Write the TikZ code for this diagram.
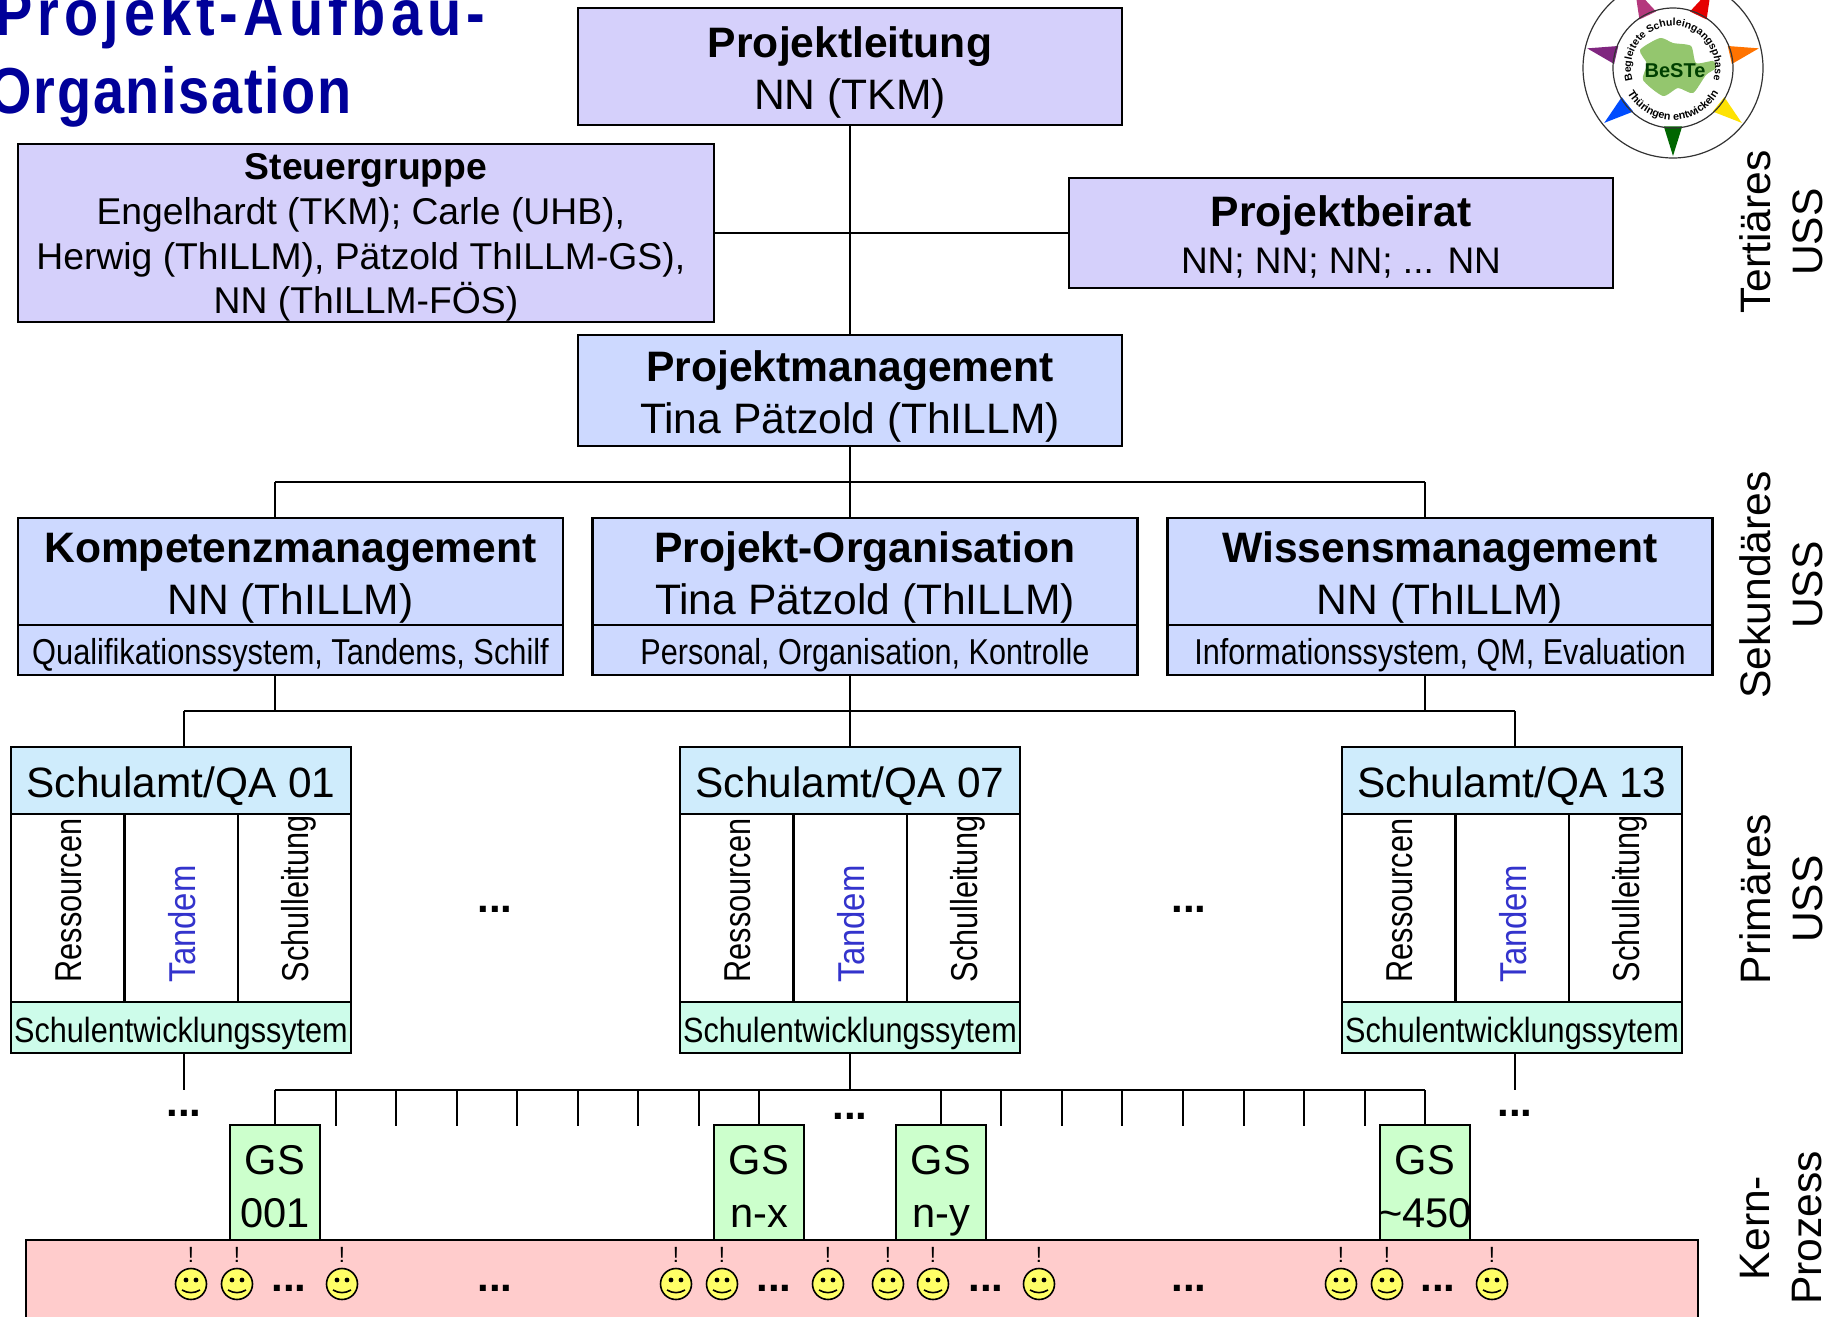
\documentclass[tikz,border=0pt]{standalone}
\usepackage{fontspec}
\setmainfont{Liberation Sans}
\usepackage{graphicx}
\usetikzlibrary{calc}
\usetikzlibrary{decorations}
\usetikzlibrary{decorations.text}
\definecolor{leitfill}{HTML}{D5D0FB}
\definecolor{mgmtfill}{HTML}{CDD9FF}
\definecolor{qafill}{HTML}{CFECFC}
\definecolor{sysfill}{HTML}{CDFCEA}
\definecolor{gsfill}{HTML}{CCFFCC}
\definecolor{kernfill}{HTML}{FFCCCC}
\definecolor{titleblue}{HTML}{000099}
\definecolor{tandemblue}{HTML}{3333CC}
\definecolor{faceyellow}{HTML}{FFFF66}
\definecolor{mapgreen}{HTML}{94C66E}
\newcommand{\narrow}[2]{\scalebox{#1}[1]{#2}}
\newcommand{\logoray}[2]{\fill[#2] (-#1:88) -- ({-#1-9}:59) -- ({-#1+9}:59) -- cycle;}

\begin{document}
\begin{tikzpicture}[x=0.5pt, y=-0.5pt, line width=1pt]
	\tikzstyle{box} = [draw, line width=1.1pt, inner sep=0pt, outer sep=0pt, align=center]
	\tikzstyle{big} = [box, minimum width=272pt, font=\fontsize{21.3}{25.8}\selectfont, execute at begin node={\rule{0pt}{47.1pt}}]
	\tikzstyle{sub} = [box, minimum width=272.5pt, minimum height=25pt, font=\fontsize{18}{22}\selectfont, execute at begin node={\rule{0pt}{18pt}}]
	\tikzstyle{qa} = [box, fill=qafill, minimum width=170pt, minimum height=33.5pt, font=\fontsize{21.2}{25}\selectfont, execute at begin node={\rule{0pt}{21pt}}]
	\tikzstyle{col} = [box, minimum width=56.7pt, minimum height=94pt]
	\tikzstyle{coltext} = [inner sep=0pt, rotate=90, anchor=base west, font=\fontsize{18.7}{22}\selectfont]
	\tikzstyle{sys} = [box, fill=sysfill, minimum width=170pt, minimum height=25.5pt, font=\fontsize{17.5}{21}\selectfont, execute at begin node={\rule{0pt}{18.6pt}}]
	\tikzstyle{gs} = [box, fill=gsfill, minimum width=45pt, minimum height=57.5pt, font=\fontsize{20.8}{26.5}\selectfont, execute at begin node={\rule{0pt}{49.7pt}}, execute at end node={\rule[-5pt]{0pt}{0pt}}]
	\tikzstyle{side} = [inner sep=0pt, rotate=90, align=center, font=\fontsize{21.3}{26}\selectfont]
	\tikzstyle{more} = [inner sep=0pt, font=\fontsize{21}{25}\selectfont\bfseries]
	\tikzstyle{titleline} = [inner sep=0pt, anchor=base east, text=titleblue, font=\fontsize{32.5}{39}\selectfont\bfseries]
	\tikzstyle{face} = [draw, circle, fill=faceyellow, line width=.8pt, inner sep=0pt, minimum size=15.5pt,
		label={[inner sep=0pt, label distance=2pt, font=\fontsize{11}{12}\selectfont]above:!},
		path picture={
			\fill[black] ([shift={(-5,-4)}]path picture bounding box.center) circle (2.4);
			\fill[black] ([shift={(5,-4)}]path picture bounding box.center) circle (2.4);
			\draw[black, line width=.8pt] ([shift={(-9,6)}]path picture bounding box.center) to[bend right=30] ([shift={(9,6)}]path picture bounding box.center);
		}]

	\useasboundingbox (0,0) rectangle (1838,1317);
	\clip (0,0) rectangle (1838,1317);

	% title
	\node[titleline] (title1) at (486,35) {\narrow{.86}{\addfontfeature{LetterSpace=9}Projekt-Aufbau-}};
	\node[titleline] (title2) at (353,113) {\narrow{.86}{\addfontfeature{LetterSpace=3}Organisation}};

	% tertiary level
	\path
	node[big, fill=leitfill, minimum height=58.5pt] (leitung) at (850,66.5) {\textbf{Projektleitung}\\NN (TKM)}
	node[box, fill=leitfill, minimum width=348pt, minimum height=89pt, font=\fontsize{18.65}{22.3}\selectfont, execute at begin node={\rule{0pt}{84.5pt}}] (steuer) at (366,233)
		{\textbf{Steuergruppe}\\Engelhardt (TKM); Carle (UHB),\rule{5.2pt}{0pt}\\Herwig (ThILLM), Pätzold ThILLM-GS),\rule{5.2pt}{0pt}\\NN (ThILLM-FÖS)}
	node[box, minimum width=272pt, fill=leitfill, minimum height=55pt, font=\fontsize{18.5}{23.5}\selectfont, execute at begin node={\rule{0pt}{43pt}}] (beirat) at (1341,233)
		{{\fontsize{21.3}{23.5}\selectfont\textbf{Projektbeirat}}\\NN; NN; NN; ... NN}
	node[big, fill=mgmtfill, minimum height=55.5pt] (mgmt) at (850,390.5) {\textbf{Projektmanagement}\\Tina Pätzold (ThILLM)}
	(leitung) edge (mgmt)
	(steuer) edge (beirat)
	;

	% secondary level
	\path
	node[big, fill=mgmtfill, minimum width=272.5pt, minimum height=53.5pt] (komp) at (290.5,571.5) {\textbf{Kompetenzmanagement}\\NN (ThILLM)}
	node[big, fill=mgmtfill, minimum width=272.5pt, minimum height=53.5pt] (orga) at (865,571.5) {\textbf{Projekt-Organisation}\\Tina Pätzold (ThILLM)}
	node[big, fill=mgmtfill, minimum width=272.5pt, minimum height=53.5pt] (wissen) at (1440,571.5) {\textbf{Wissensmanagement}\\NN (ThILLM)}
	node[sub, fill=mgmtfill] (kompsub) at (290.5,650) {\narrow{.855}{Qualifikationssystem, Tandems, Schilf}}
	node[sub, fill=mgmtfill] (orgasub) at (865,650) {\narrow{.85}{Personal, Organisation, Kontrolle}}
	node[sub, fill=mgmtfill] (wissensub) at (1440,650) {\narrow{.85}{Informationssystem, QM, Evaluation}}
	coordinate (busAl) at (275,482)
	coordinate (busAc) at (850,482)
	coordinate (busAr) at (1425,482)
	coordinate (busBl) at (184,711)
	coordinate (busBk) at (275,711)
	coordinate (busBc) at (850,711)
	coordinate (busBw) at (1425,711)
	coordinate (busBr) at (1515,711)
	(mgmt) edge (busAc)
	(busAl) edge (busAr)
	(busAl) edge (busAl |- komp.north)
	(busAc) edge (busAc |- orga.north)
	(busAr) edge (busAr |- wissen.north)
	(busBl) edge (busBr)
	(busBk |- kompsub.south) edge (busBk)
	(busBc |- orgasub.south) edge (busBc)
	(busBw |- wissensub.south) edge (busBw)
	;

	% primary level
	\path
	node[qa] (qa1) at (181,780.5) {Schulamt/QA 01}
	node[col] (res1) at (67.7,908) {}
	node[col] (tan1) at (181,908) {}
	node[col] (sl1) at (294.3,908) {}
	node[sys] (sys1) at (181,1027.5) {\narrow{.875}{Schulentwicklungssytem}}
	node[qa] (qa2) at (850,780.5) {Schulamt/QA 07}
	node[col] (res2) at (736.7,908) {}
	node[col] (tan2) at (850,908) {}
	node[col] (sl2) at (963.3,908) {}
	node[sys] (sys2) at (850,1027.5) {\narrow{.875}{Schulentwicklungssytem}}
	node[qa] (qa3) at (1512,780.5) {Schulamt/QA 13}
	node[col] (res3) at (1398.7,908) {}
	node[col] (tan3) at (1512,908) {}
	node[col] (sl3) at (1625.3,908) {}
	node[sys] (sys3) at (1512,1027.5) {\narrow{.875}{Schulentwicklungssytem}}
	node[coltext] (res1t) at ([xshift=7pt,yshift=9.3pt]res1.south) {\narrow{.82}{Ressourcen}}
	node[coltext, text=tandemblue] (tan1t) at ([xshift=7pt,yshift=9.3pt]tan1.south) {\narrow{.88}{Tandem}}
	node[coltext] (sl1t) at ([xshift=7pt,yshift=9.3pt]sl1.south) {\narrow{.82}{Schulleitung}}
	node[coltext] (res2t) at ([xshift=7pt,yshift=9.3pt]res2.south) {\narrow{.82}{Ressourcen}}
	node[coltext, text=tandemblue] (tan2t) at ([xshift=7pt,yshift=9.3pt]tan2.south) {\narrow{.88}{Tandem}}
	node[coltext] (sl2t) at ([xshift=7pt,yshift=9.3pt]sl2.south) {\narrow{.82}{Schulleitung}}
	node[coltext] (res3t) at ([xshift=7pt,yshift=9.3pt]res3.south) {\narrow{.82}{Ressourcen}}
	node[coltext, text=tandemblue] (tan3t) at ([xshift=7pt,yshift=9.3pt]tan3.south) {\narrow{.88}{Tandem}}
	node[coltext] (sl3t) at ([xshift=7pt,yshift=9.3pt]sl3.south) {\narrow{.82}{Schulleitung}}
	node[more] (moreA) at (495,909.5) {...}
	node[more] (moreB) at (1189,909.5) {...}
	(busBl) edge (busBl |- qa1.north)
	(busBc) edge (busBc |- qa2.north)
	(busBr) edge (busBr |- qa3.north)
	;

	% core process
	\node[box, fill=kernfill, minimum width=836pt, minimum height=50pt, anchor=north west] (kern) at (26,1240) {};
	\path
	node[gs] (gs1) at (275,1182.5) {GS\\001}
	node[gs] (gs2) at (759,1182.5) {GS\\n-x}
	node[gs] (gs3) at (941,1182.5) {GS\\n-y}
	node[gs] (gs4) at (1425,1182.5) {GS\\\makebox[0pt]{\textasciitilde 450}}
	node[more] (moreC) at (184,1113) {...}
	node[more] (moreD) at (850,1116) {...}
	node[more] (moreE) at (1515,1113) {...}
	coordinate (busCl) at (275,1090)
	coordinate (busCm) at (850,1090)
	coordinate (busCr) at (1425,1090)
	coordinate (dropl) at (184,1090)
	coordinate (dropr) at (1515,1090)
	(busCl) edge (busCr)
	(busBl |- sys1.south) edge (dropl)
	(busCm |- sys2.south) edge (busCm)
	(busBr |- sys3.south) edge (dropr)
	(busCl) edge (gs1.north)
	(759,1090) edge (gs2.north)
	(941,1090) edge (gs3.north)
	(busCr) edge (gs4.north)
	(335.5,1090) edge (335.5,1126)
	(396,1090) edge (396,1126)
	(456.6,1090) edge (456.6,1126)
	(517,1090) edge (517,1126)
	(577.6,1090) edge (577.6,1126)
	(638,1090) edge (638,1126)
	(698.7,1090) edge (698.7,1126)
	(1001.3,1090) edge (1001.3,1126)
	(1062,1090) edge (1062,1126)
	(1122.4,1090) edge (1122.4,1126)
	(1183,1090) edge (1183,1126)
	(1243.5,1090) edge (1243.5,1126)
	(1304,1090) edge (1304,1126)
	(1364.5,1090) edge (1364.5,1126)
	;
	\path
	node[face] (f1) at (191,1284) {}
	node[face] (f2) at (237,1284) {}
	node[more] (moreF) at (289,1288) {...}
	node[face] (f3) at (342,1284) {}
	node[more] (moreG) at (495,1288) {...}
	node[face] (f4) at (676,1284) {}
	node[face] (f5) at (722,1284) {}
	node[more] (moreH) at (774,1288) {...}
	node[face] (f6) at (828,1284) {}
	node[face] (f7) at (888,1284) {}
	node[face] (f8) at (933,1284) {}
	node[more] (moreI) at (986,1288) {...}
	node[face] (f9) at (1039,1284) {}
	node[more] (moreJ) at (1189,1288) {...}
	node[face] (f10) at (1341,1284) {}
	node[face] (f11) at (1387,1284) {}
	node[more] (moreK) at (1438,1288) {...}
	node[face] (f12) at (1492,1284) {}
	;

	% side labels
	\path
	node[side] (tert) at (1781,232) {Tertiäres\\USS}
	node[side] (sek) at (1781,585) {Sekundäres\\USS}
	node[side] (prim) at (1781,899) {Primäres\\USS}
	node[side] (kernlab) at (1781,1228) {Kern-\\Prozess}
	;

	% logo
	\begin{scope}[shift={(1673,68)}]
		\logoray{270}{green!40!black}
		\logoray{321.4}{yellow!85!orange}
		\logoray{12.9}{orange!90!red}
		\logoray{64.3}{red!90!black}
		\logoray{115.7}{magenta!70!black}
		\logoray{167.1}{violet!70!gray}
		\logoray{218.6}{blue!70!cyan}
		\draw[line width=.6pt, black!80] (0,0) circle (90);
		\draw[line width=.6pt, black!80] (0,0) circle (60);
		\fill[mapgreen] plot[smooth cycle, tension=.4] coordinates {(-13,-30) (-33,-18) (-26,-4) (-30,12) (-10,28) (5,20) (20,25) (33,7) (43,0) (40,-7) (23,-5) (18,-22) (0,-25)};
		\node[inner sep=0pt, text=green!25!black, font=\fontsize{10}{11}\selectfont\bfseries] (bestetext) at (2,3) {BeSTe};
		\path[decorate, decoration={text along path, text align=center, text={|\fontsize{5.2}{6}\selectfont\bfseries|Begleitete Schuleingangsphase}}]
			(-197:42) arc[start angle=-197, end angle=17, radius=42];
		\path[decorate, decoration={text along path, text align=center, text={|\fontsize{5.4}{7}\selectfont\bfseries|Thüringen entwickeln}}]
			(-150:52) arc[start angle=-150, end angle=-390, radius=52];
	\end{scope}
\end{tikzpicture}
\end{document}
